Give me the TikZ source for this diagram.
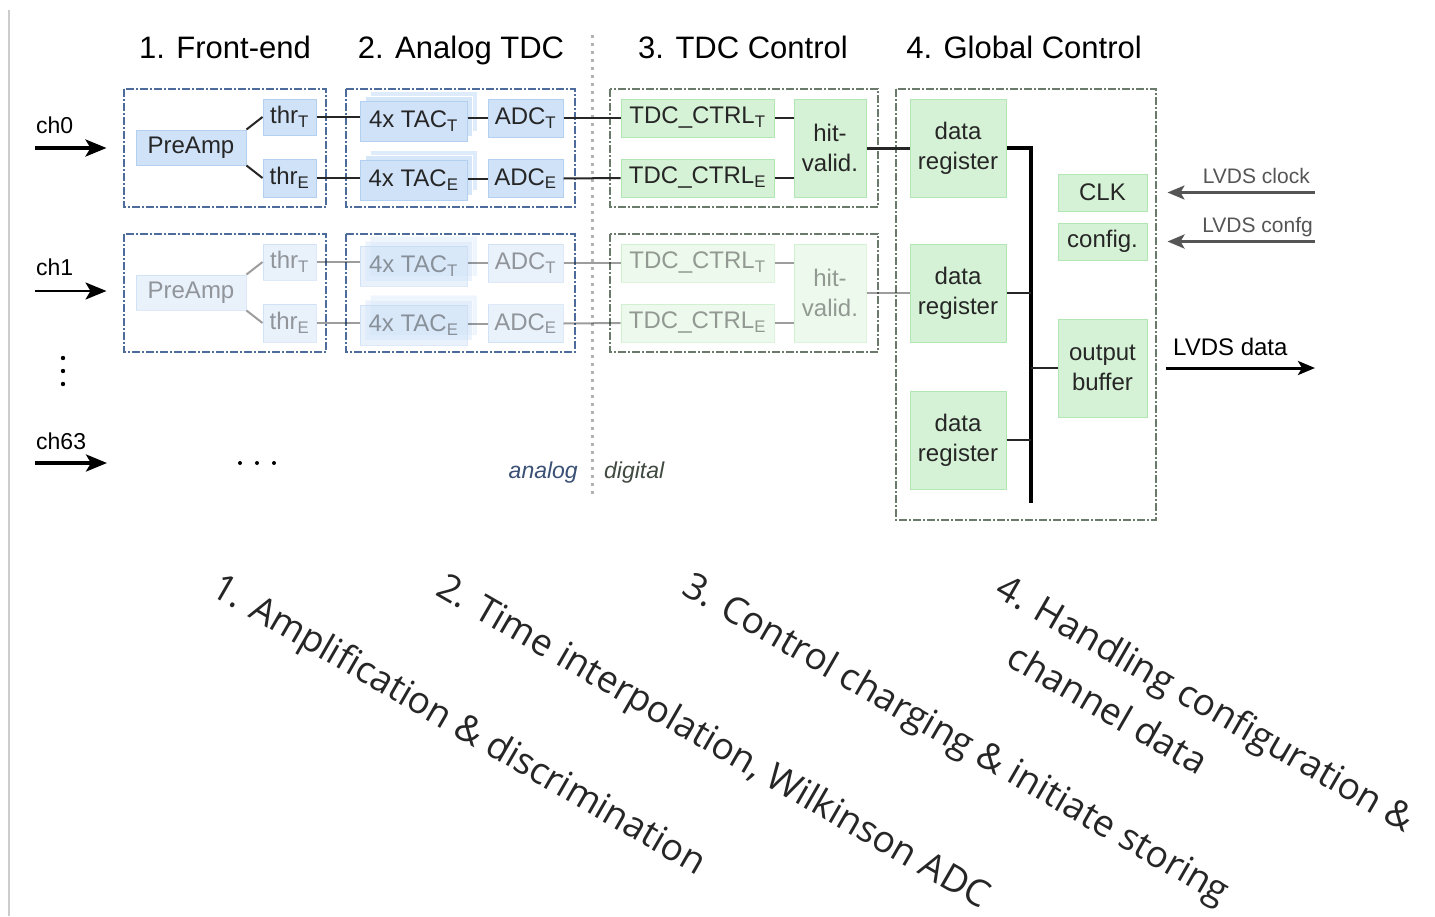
\documentclass[tikz,border=0pt]{standalone}
\usepackage{fontspec}
\setmainfont{Liberation Sans}
\newfontfamily\stagefont{Open Sans}
\usetikzlibrary{arrows.meta,shadows}

\definecolor{anafill}{HTML}{CFE2F8}
\definecolor{anaedge}{HTML}{B4D0F0}
\definecolor{anaframe}{HTML}{4D6C9C}
\definecolor{digfill}{HTML}{D6F2D6}
\definecolor{digedge}{HTML}{B2E6B2}
\definecolor{digframe}{HTML}{6B7B6B}
\definecolor{inkgray}{HTML}{555555}

\tikzset{
  blk/.style={line width=1pt,text=black!85,font=\fontsize{24}{30}\selectfont,align=center},
  ana/.style={blk,draw=anaedge,fill=anafill},
  dig/.style={blk,draw=digedge,fill=digfill},
  tac/.style={ana,
    copy shadow={shadow xshift=10pt,shadow yshift=10pt,fill=anafill!70,draw=white,line width=1pt},
    copy shadow={shadow xshift=5pt,shadow yshift=5pt,fill=anafill!85,draw=white,line width=1pt}},
  frameA/.style={draw=anaframe,line width=1.3pt,dash pattern=on 8pt off 2pt on 2pt off 2pt},
  frameD/.style={draw=digframe,line width=1.3pt,dash pattern=on 8pt off 2pt on 2pt off 2pt},
  wire/.style={draw=black!85,line width=2pt},
  chan/.style={line width=3.5pt,-{Stealth[length=21pt,width=17pt,inset=5pt]}},
  lvds/.style={draw=inkgray,line width=3pt,-{Stealth[length=17pt,width=14pt,inset=4pt]}},
  head/.style={font=\fontsize{31}{37}\selectfont,anchor=base},
  stage/.style={font=\stagefont\fontsize{37}{54}\selectfont,text=black!85,rotate=-30}
}

\begin{document}
\begin{tikzpicture}[x=1pt,y=-1pt,every node/.style={inner sep=0pt}]
\useasboundingbox[fill=white] (0,0) rectangle (1435,916);
\draw[black!20,line width=1.5pt] (9,10) -- (9,916);

% headings
\node[head] (h1) at (225,58) {1. Front-end};
\node[head] (h2) at (461,58) {2. Analog TDC};
\node[head] (h3) at (743,58) {3. TDC Control};
\node[head] (h4) at (1024,58) {4. Global Control};

% analog / digital split
\draw[black!30,line width=3pt,dash pattern=on 3pt off 5pt] (592,35) -- (592,497);
\node[anchor=base east,font=\fontsize{23}{28}\selectfont\itshape,text=anaframe!75!black] (ana) at (578,478) {analog};
\node[anchor=base west,font=\fontsize{23}{28}\selectfont\itshape,text=digframe!60!black] (dig) at (604,478) {digital};

% frames
\foreach \dy in {0,145} {
  \draw[frameA] (124,89+\dy) rectangle (326,207+\dy);
  \draw[frameA] (346,89+\dy) rectangle (575,207+\dy);
  \draw[frameD] (610,89+\dy) rectangle (878,207+\dy);
}
\draw[frameD] (896,89) rectangle (1156,520);

% one chain per channel, ch1 faded
\foreach \n/\dy/\op in {0/0/1,1/145/0.45} {
  \begin{scope}[opacity=\op]
  \node[ana,minimum width=110pt,minimum height=35pt] (pa\n) at (191,147.5+\dy) {PreAmp};
  \node[ana,minimum width=53pt,minimum height=36pt] (thrT\n) at (289.5,117+\dy) {thr\textsubscript{T}};
  \node[ana,minimum width=53pt,minimum height=38pt] (thrE\n) at (289.5,178+\dy) {thr\textsubscript{E}};
  \node[tac,minimum width=107pt,minimum height=40pt] (tacT\n) at (413.5,121+\dy) {4x TAC\textsubscript{T}};
  \node[tac,minimum width=107pt,minimum height=40pt] (tacE\n) at (413.5,180+\dy) {4x TAC\textsubscript{E}};
  \node[ana,minimum width=75pt,minimum height=38pt] (adcT\n) at (525.5,118+\dy) {ADC\textsubscript{T}};
  \node[ana,minimum width=75pt,minimum height=38pt] (adcE\n) at (525.5,178.5+\dy) {ADC\textsubscript{E}};
  \node[dig,minimum width=153pt,minimum height=38pt] (ctlT\n) at (697.5,118+\dy) {TDC\_CTRL\textsubscript{T}};
  \node[dig,minimum width=153pt,minimum height=38pt] (ctlE\n) at (697.5,178+\dy) {TDC\_CTRL\textsubscript{E}};
  \node[dig,minimum width=72pt,minimum height=98pt] (hv\n) at (830,148+\dy) {hit-\\valid.};
  \draw[wire] (pa\n.north east) -- (thrT\n.west);
  \draw[wire] (pa\n.south east) -- (thrE\n.west);
  \draw[wire] (thrT\n.east) -- (thrT\n.east -| tacT\n.west);
  \draw[wire] (thrE\n.east) -- (thrE\n.east -| tacE\n.west);
  \draw[wire] (adcT\n.west -| tacT\n.east) -- (adcT\n.west);
  \draw[wire] (adcE\n.west -| tacE\n.east) -- (adcE\n.west);
  \draw[wire] (adcT\n.east) -- (ctlT\n.west);
  \draw[wire] (adcE\n.east) -- (ctlE\n.west);
  \draw[wire] (ctlT\n.east) -- (ctlT\n.east -| hv\n.west);
  \draw[wire] (ctlE\n.east) -- (ctlE\n.east -| hv\n.west);
  \end{scope}
}

% global control
\node[dig,minimum width=96pt,minimum height=98pt] (reg0) at (958,148) {data\\register};
\node[dig,minimum width=96pt,minimum height=98pt] (reg1) at (958,293) {data\\register};
\node[dig,minimum width=96pt,minimum height=98pt] (reg2) at (958,440) {data\\register};
\node[dig,minimum width=89pt,minimum height=37pt] (clk) at (1102.5,192.5) {CLK};
\node[dig,minimum width=89pt,minimum height=37pt] (cfg) at (1102.5,241.5) {config.};
\node[dig,minimum width=89pt,minimum height=98pt] (outbuf) at (1102.5,368) {output\\buffer};
\coordinate (bustop) at (1031,148);
\coordinate (busbot) at (1031,503);
\draw[wire,line width=3pt] (hv0) -- (reg0);
\draw[wire,opacity=0.45] (hv1) -- (reg1);
\draw[line width=4.5pt] (reg0.east) -| (busbot);
\draw[wire] (reg1.east) -- (reg1.east -| bustop);
\draw[wire] (reg2.east) -- (reg2.east -| bustop);
\draw[wire] (outbuf.west -| bustop) -- (outbuf.west);

% LVDS
\coordinate (clkin) at (1315,192.5);
\coordinate (cfgin) at (1315,241.5);
\coordinate (dataout) at (1315,368);
\draw[lvds,line width=2.5pt,shorten >=20pt] (clkin) -- (clk.east);
\draw[lvds,shorten >=20pt] (cfgin) -- (cfg.east);
\draw[lvds,draw=black,shorten <=18pt] (outbuf.east) -- (dataout);
\node[anchor=base east,font=\fontsize{21}{25}\selectfont,text=inkgray] (lclk) at (1310,183) {LVDS clock};
\node[anchor=base east,font=\fontsize{21}{25}\selectfont,text=inkgray] (lcfg) at (1313,232) {LVDS confg};
\node[anchor=base west,font=\fontsize{24}{28}\selectfont] (ldata) at (1173,355) {LVDS data};

% channel inputs
\coordinate (ch0in) at (35,148);
\coordinate (ch1in) at (35,291);
\coordinate (ch63in) at (35,463);
\coordinate (ch63out) at (107,463);
\draw[chan,shorten >=29pt] (ch0in) -- (ch0in -| pa0.west);
\draw[chan,line width=2.5pt,shorten >=29pt] (ch1in) -- (ch1in -| pa1.west);
\draw[chan] (ch63in) -- (ch63out);
\node[anchor=base west,font=\fontsize{23}{28}\selectfont] (lch0) at (36,133) {ch0};
\node[anchor=base west,font=\fontsize{23}{28}\selectfont] (lch1) at (36,275) {ch1};
\node[anchor=base west,font=\fontsize{23}{28}\selectfont] (lch63) at (36,449) {ch63};
\foreach \y in {358,371,384} \fill (63,\y) circle (2.2pt);
\foreach \x in {240,257,274} \fill (\x,463) circle (2pt);

% stage notes
\node[stage,anchor=base west] (s1) at (209,594) {1. Amplification \& discrimination};
\node[stage,anchor=base west] (s2) at (434,594) {2. Time interpolation, Wilkinson ADC};
\node[stage,anchor=base west] (s3) at (680,593) {3. Control charging \& initiate storing};
\node[stage,anchor=north west,align=left] (s4) at (1008,571) {4. Handling configuration \&\\\hphantom{4. }channel data};
\end{tikzpicture}
\end{document}
